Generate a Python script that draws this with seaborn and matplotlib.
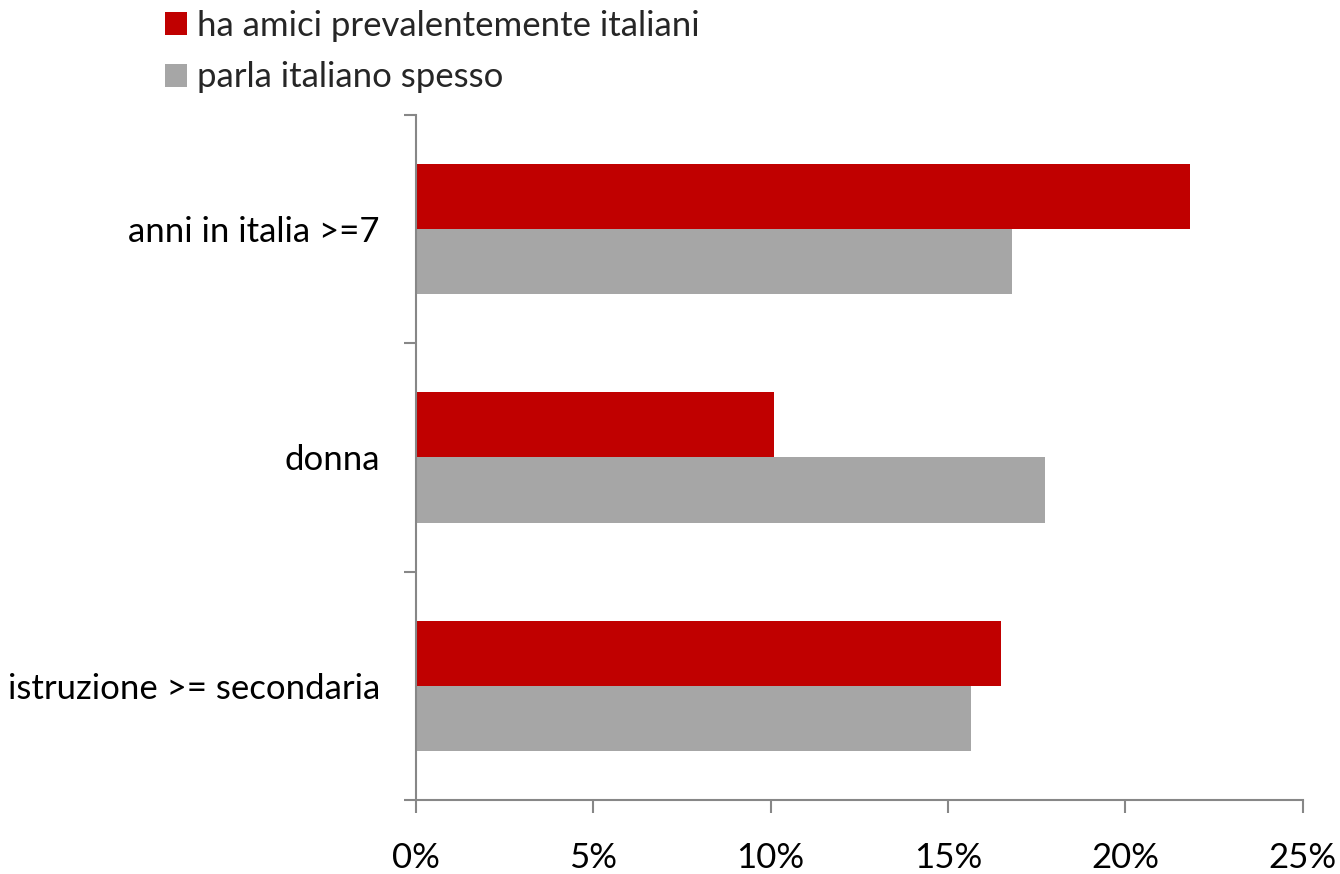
import matplotlib
matplotlib.use("Agg")
import matplotlib.pyplot as plt
from matplotlib.ticker import PercentFormatter, FixedLocator
from matplotlib.patches import Patch
import seaborn as sns
import pandas as pd

categories = ["anni in italia >=7", "donna", "istruzione >= secondaria"]
series_names = ["ha amici prevalentemente italiani", "parla italiano spesso"]
amici_italiani = [21.82, 10.09, 16.50]
parla_italiano = [16.80, 17.73, 15.64]
x_ticks = [0, 5, 10, 15, 20, 25]

colors = {series_names[0]: "#C00000", series_names[1]: "#A6A6A6"}

df = pd.DataFrame({
    "categoria": categories * 2,
    "serie": [series_names[0]] * 3 + [series_names[1]] * 3,
    "valore": amici_italiani + parla_italiano,
})

sns.set_style("white")
plt.rcParams["font.family"] = ["Lato", "DejaVu Sans"]

FS = 25

fig = plt.figure(figsize=(13.4, 8.74), dpi=100)
ax = fig.add_axes([0.3104, 0.0847, 0.9722 - 0.3104, 0.8684 - 0.0847])

sns.barplot(data=df, y="categoria", x="valore", hue="serie", order=categories,
            hue_order=series_names, palette=colors, orient="h", width=0.57,
            saturation=1, edgecolor="none", linewidth=0, legend=False, ax=ax)

ax.set_xlim(0, 25)
ax.set_ylim(2.5, -0.5)
ax.xaxis.set_major_locator(FixedLocator(x_ticks))
ax.xaxis.set_major_formatter(PercentFormatter(decimals=0))
ax.set_xlabel("")
ax.set_ylabel("")

spine_col = "#878787"
for s in ["top", "right"]:
    ax.spines[s].set_visible(False)
for s in ["left", "bottom"]:
    ax.spines[s].set_color(spine_col)
    ax.spines[s].set_linewidth(1.5)

ax.tick_params(axis="x", which="major", bottom=True, direction="out", length=9,
               width=1.5, color=spine_col, labelsize=FS, pad=21, labelcolor="black")
ax.yaxis.set_minor_locator(FixedLocator([-0.5, 0.5, 1.5, 2.5]))
ax.tick_params(axis="y", which="major", left=False, length=0, labelsize=FS,
               pad=26, labelcolor="black")
ax.tick_params(axis="y", which="minor", left=True, direction="out", length=9,
               width=1.5, color=spine_col)

handles = [Patch(facecolor=colors[n], edgecolor="none") for n in series_names]
fig.legend(handles, series_names, loc="upper left", bbox_to_anchor=(0.1125, 1.005),
           frameon=False, fontsize=FS, handlelength=0.64, handleheight=0.64,
           handletextpad=0.3, labelspacing=0.57, borderaxespad=0)

fig.savefig("out.png", dpi=100, facecolor="white")
